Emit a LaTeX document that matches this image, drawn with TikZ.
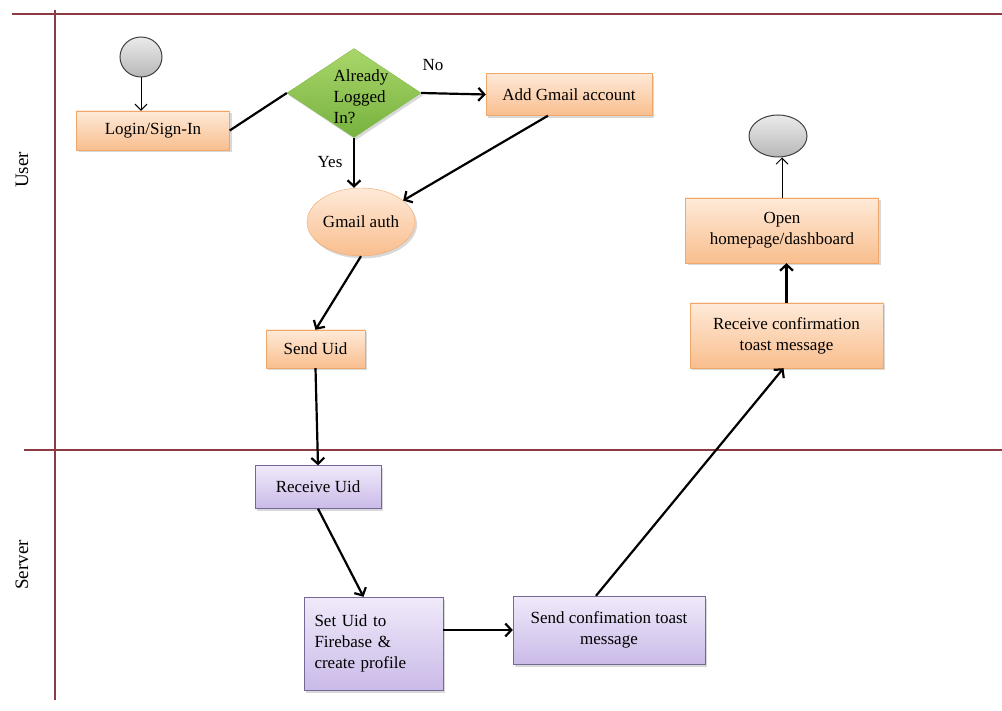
\documentclass[tikz,border=0pt]{standalone}
\usepackage{fontspec}
\setmainfont{Liberation Serif}
\usetikzlibrary{shapes.geometric, arrows.meta, shadows}

\definecolor{lanered}{RGB}{140,58,68}
\definecolor{peachtop}{RGB}{254,234,216}
\definecolor{peachbot}{RGB}{249,190,142}
\definecolor{peachline}{RGB}{238,168,108}
\definecolor{lilactop}{RGB}{240,234,250}
\definecolor{lilacbot}{RGB}{202,186,232}
\definecolor{lilacline}{RGB}{118,104,150}
\definecolor{leaftop}{RGB}{170,214,106}
\definecolor{leafbot}{RGB}{118,178,62}
\definecolor{leafline}{RGB}{132,186,78}

\begin{document}
\begin{tikzpicture}[x=1pt, y=-1pt,
	font=\fontsize{17}{21}\selectfont,
	lane/.style={draw=lanered, line width=2.4pt},
	shade/.style={drop shadow={shadow xshift=2pt, shadow yshift=-2.5pt, opacity=0.3}},
	userbox/.style={draw=peachline, top color=peachtop, bottom color=peachbot, shade, inner sep=2pt, align=center},
	serverbox/.style={draw=lilacline, top color=lilactop, bottom color=lilacbot, shade, inner sep=2pt, align=center},
	decision/.style={shape=diamond, draw=leafline, top color=leaftop, bottom color=leafbot, shade, inner sep=0pt},
	terminal/.style={shape=ellipse, draw=black!75, line width=1pt, top color=white!92!black, bottom color=black!28, inner sep=0pt},
	flow/.style={-{Straight Barb[length=6pt, width=13pt]}, line width=2.2pt},
	thinflow/.style={-{Straight Barb[length=6pt, width=12pt]}, line width=1pt}]

		\useasboundingbox (0,0) rectangle (1002,711);

		% swim lanes
		\draw[lane] (12,14) -- (1002,14);
		\draw[lane] (24,450) -- (1002,450);
		\draw[lane] (55,10) -- (55,700);
		\node[rotate=90, font=\fontsize{19}{21}\selectfont] (userlane) at (22,170) {User};
		\node[rotate=90, font=\fontsize{19}{21}\selectfont] (serverlane) at (22,565) {Server};

		% user
		\node[terminal, minimum width=42pt, minimum height=40pt] (start) at (141,57) {};
		\node[userbox, minimum width=153pt, minimum height=39pt] (login) at (153,130.5) {Login/Sign-In};
		\node[decision, minimum width=134pt, minimum height=89pt] (logged) at (354,93) {};
		\node[align=left, inner sep=0pt] (loggedtext) at (361,97) {Already\\Logged\\In?};
		\node[userbox, minimum width=166pt, minimum height=42pt] (addgmail) at (569,94.5) {Add Gmail account};
		\node[userbox, shape=ellipse, inner sep=0pt, minimum width=108pt, minimum height=68pt] (gmail) at (361,222) {Gmail auth};
		\node[userbox, minimum width=99pt, minimum height=38pt] (senduid) at (315.5,349) {Send Uid};
		\node[userbox, minimum width=193pt, minimum height=65pt] (recvconf) at (786.5,335.5) {Receive confirmation\\toast message};
		\node[userbox, minimum width=193pt, minimum height=65pt] (openhome) at (782,230.5) {Open\\homepage/dashboard};
		\node[terminal, minimum width=58pt, minimum height=42pt] (finish) at (778,136) {};

		% server
		\node[serverbox, minimum width=126pt, minimum height=43pt] (recvuid) at (318,487) {Receive Uid};
		\node[serverbox, minimum width=139pt, minimum height=93pt, text width=118pt, align=left] (setuid) at (373.5,643.5) {Set Uid to\\Firebase \&\\create profile};
		\node[serverbox, minimum width=192pt, minimum height=68pt] (sendconf) at (609,630) {Send confimation toast\\message};

		\node (no)  at (433,65)  {No};
		\node (yes) at (330,162) {Yes};

		\draw[thinflow] (start.south) -- (start.south |- login.north);
		\draw[line width=2.2pt] (login.east) -- (logged.west);
		\draw[flow] (logged.east) -- (addgmail.west);
		\draw[flow] (logged.south) -- (logged.south |- gmail.north);
		\draw[flow] ([xshift=-21pt]addgmail.south) -- (gmail.27);
		\draw[flow] (gmail.south) -- (senduid.north);
		\draw[flow] (senduid.south) -- (recvuid.north);
		\draw[flow] (recvuid.south) -- ([xshift=-10pt]setuid.north);
		\draw[flow] (setuid.east |- sendconf.west) -- (sendconf.west);
		\draw[flow] ([xshift=-13pt]sendconf.north) -- ([xshift=-3pt]recvconf.south);
		\draw[flow] (recvconf.north) -- (recvconf.north |- openhome.south);
		\draw[thinflow] (openhome.north) -- (openhome.north |- finish.south);
	\end{tikzpicture}
\end{document}
